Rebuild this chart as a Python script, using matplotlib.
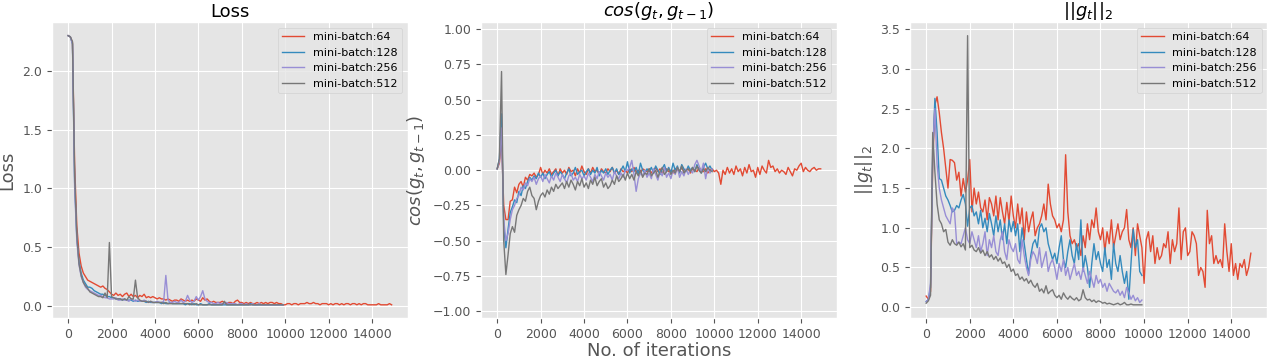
import numpy as np
import matplotlib
matplotlib.use("Agg")
import matplotlib.pyplot as plt

plt.style.use('ggplot')

# iteration grid: mini-batch 64 ran 150 logging steps, the others 100
iters_long = np.arange(0, 15000, 100)
iters_short = np.arange(0, 10000, 100)

labels = ['mini-batch:64', 'mini-batch:128', 'mini-batch:256', 'mini-batch:512']

# ---- loss ----
loss_64 = [
    2.30, 2.29, 2.24, 1.20, 0.68, 0.45, 0.34, 0.28, 0.25, 0.22,
    0.21, 0.20, 0.19, 0.18, 0.17, 0.16, 0.17, 0.15, 0.14, 0.12,
    0.10, 0.09, 0.11, 0.09, 0.10, 0.08, 0.10, 0.11, 0.08, 0.10,
    0.08, 0.09, 0.07, 0.09, 0.08, 0.10, 0.07, 0.08, 0.07, 0.08,
    0.07, 0.06, 0.07, 0.06, 0.06, 0.05, 0.06, 0.05, 0.04, 0.05,
    0.05, 0.04, 0.06, 0.05, 0.04, 0.05, 0.04, 0.05, 0.04, 0.06,
    0.05, 0.04, 0.07, 0.05, 0.06, 0.04, 0.03, 0.04, 0.03, 0.03,
    0.03, 0.04, 0.03, 0.02, 0.03, 0.03, 0.02, 0.04, 0.05, 0.03,
    0.03, 0.02, 0.03, 0.02, 0.03, 0.02, 0.02, 0.03, 0.02, 0.03,
    0.02, 0.03, 0.02, 0.03, 0.03, 0.02, 0.03, 0.02, 0.02, 0.01,
    0.01, 0.02, 0.02, 0.01, 0.02, 0.02, 0.01, 0.02, 0.02, 0.02,
    0.03, 0.02, 0.02, 0.03, 0.02, 0.02, 0.01, 0.02, 0.02, 0.02,
    0.01, 0.02, 0.01, 0.02, 0.02, 0.01, 0.02, 0.01, 0.02, 0.02,
    0.01, 0.02, 0.02, 0.01, 0.02, 0.01, 0.02, 0.02, 0.01, 0.01,
    0.01, 0.01, 0.01, 0.02, 0.01, 0.01, 0.01, 0.01, 0.02, 0.01,
]
loss_128 = [
    2.30, 2.29, 2.23, 1.05, 0.58, 0.38, 0.28, 0.22, 0.19, 0.16,
    0.16, 0.15, 0.13, 0.12, 0.11, 0.10, 0.10, 0.09, 0.08, 0.08,
    0.07, 0.07, 0.06, 0.06, 0.06, 0.05, 0.06, 0.05, 0.05, 0.05,
    0.04, 0.05, 0.04, 0.04, 0.04, 0.04, 0.03, 0.04, 0.03, 0.03,
    0.03, 0.03, 0.03, 0.02, 0.03, 0.02, 0.02, 0.03, 0.02, 0.02,
    0.02, 0.02, 0.02, 0.02, 0.01, 0.02, 0.02, 0.01, 0.02, 0.01,
    0.01, 0.02, 0.01, 0.01, 0.01, 0.02, 0.01, 0.01, 0.01, 0.01,
    0.01, 0.01, 0.01, 0.01, 0.01, 0.01, 0.01, 0.01, 0.01, 0.01,
    0.01, 0.01, 0.01, 0.01, 0.02, 0.01, 0.01, 0.01, 0.01, 0.01,
    0.01, 0.01, 0.01, 0.01, 0.01, 0.01, 0.01, 0.01, 0.01, 0.01,
]
loss_256 = [
    2.30, 2.29, 2.23, 1.00, 0.55, 0.35, 0.25, 0.20, 0.16, 0.14,
    0.13, 0.12, 0.11, 0.10, 0.09, 0.09, 0.08, 0.07, 0.07, 0.06,
    0.06, 0.06, 0.07, 0.05, 0.05, 0.06, 0.05, 0.05, 0.04, 0.06,
    0.05, 0.04, 0.05, 0.04, 0.04, 0.05, 0.04, 0.03, 0.04, 0.03,
    0.03, 0.04, 0.03, 0.03, 0.04, 0.26, 0.05, 0.03, 0.03, 0.04,
    0.03, 0.03, 0.05, 0.03, 0.04, 0.09, 0.05, 0.03, 0.04, 0.08,
    0.05, 0.08, 0.13, 0.06, 0.04, 0.03, 0.03, 0.02, 0.02, 0.03,
    0.02, 0.02, 0.02, 0.03, 0.02, 0.02, 0.02, 0.02, 0.01, 0.02,
    0.02, 0.01, 0.02, 0.01, 0.01, 0.02, 0.01, 0.01, 0.02, 0.01,
    0.01, 0.01, 0.01, 0.01, 0.01, 0.01, 0.01, 0.01, 0.01, 0.01,
]
loss_512 = [
    2.30, 2.29, 2.25, 1.10, 0.60, 0.36, 0.26, 0.20, 0.17, 0.15,
    0.12, 0.11, 0.10, 0.09, 0.08, 0.08, 0.07, 0.11, 0.07, 0.54,
    0.08, 0.07, 0.06, 0.06, 0.06, 0.05, 0.06, 0.05, 0.08, 0.06,
    0.06, 0.22, 0.07, 0.05, 0.04, 0.04, 0.04, 0.03, 0.04, 0.03,
    0.03, 0.03, 0.03, 0.03, 0.02, 0.03, 0.02, 0.02, 0.02, 0.02,
    0.02, 0.02, 0.02, 0.02, 0.02, 0.02, 0.01, 0.02, 0.01, 0.02,
    0.01, 0.01, 0.01, 0.01, 0.01, 0.01, 0.01, 0.01, 0.01, 0.01,
    0.01, 0.01, 0.04, 0.01, 0.01, 0.01, 0.01, 0.01, 0.01, 0.01,
    0.01, 0.01, 0.01, 0.01, 0.01, 0.01, 0.01, 0.01, 0.01, 0.01,
    0.01, 0.01, 0.01, 0.01, 0.01, 0.01, 0.01, 0.01, 0.01, 0.01,
]

# ---- cosine between consecutive gradients ----
cos_64 = [
    0.01, 0.05, 0.22, -0.25, -0.35, -0.35, -0.22, -0.21, -0.12, -0.16,
    -0.10, -0.08, -0.12, -0.05, -0.07, -0.03, -0.04, -0.02, -0.05, -0.03,
    0.02, -0.03, 0.00, -0.02, 0.01, -0.03, -0.01, 0.01, -0.04, 0.01,
    -0.02, 0.00, -0.03, 0.02, -0.01, 0.00, -0.04, 0.01, -0.02, 0.03,
    -0.01, -0.03, 0.01, -0.02, 0.02, -0.01, 0.00, -0.03, 0.01, -0.01,
    -0.02, 0.01, -0.01, 0.02, -0.02, 0.00, -0.03, 0.01, -0.01, 0.00,
    -0.02, 0.01, -0.01, 0.02, -0.01, 0.00, -0.02, 0.01, 0.00, -0.01,
    0.01, -0.02, 0.00, 0.02, -0.01, 0.01, -0.02, 0.00, 0.01, -0.01,
    0.00, -0.02, 0.01, 0.00, -0.01, 0.02, -0.01, 0.00, 0.01, -0.02,
    0.01, 0.00, -0.01, 0.02, 0.00, -0.01, 0.01, -0.02, 0.00, 0.01,
    -0.01, 0.00, -0.02, -0.10, 0.00, -0.03, 0.02, -0.02, 0.01, -0.03,
    0.03, -0.01, 0.01, -0.04, 0.02, -0.02, 0.04, -0.01, 0.00, -0.05,
    0.02, -0.03, 0.03, 0.00, -0.02, 0.07, 0.02, 0.03, -0.01, 0.01,
    -0.02, 0.00, -0.01, -0.03, 0.02, -0.01, -0.04, 0.01, 0.00, 0.03,
    0.05, -0.01, 0.02, 0.00, -0.01, 0.01, 0.02, 0.00, 0.01, 0.01,
]
cos_128 = [
    0.01, 0.08, 0.40, -0.40, -0.55, -0.42, -0.30, -0.26, -0.21, -0.23,
    -0.15, -0.18, -0.11, -0.13, -0.08, -0.05, -0.07, -0.04, -0.06, -0.02,
    -0.05, -0.02, -0.06, -0.03, -0.01, -0.05, -0.02, 0.00, -0.04, -0.01,
    -0.03, -0.06, -0.02, 0.01, -0.04, -0.02, 0.02, -0.03, -0.01, 0.00,
    -0.04, -0.01, 0.01, -0.03, 0.00, -0.02, 0.02, -0.04, 0.00, -0.02,
    0.01, -0.03, 0.00, 0.02, -0.02, 0.01, -0.03, 0.00, 0.03, -0.01,
    0.06, -0.02, 0.01, -0.01, 0.02, -0.03, 0.05, 0.00, -0.02, 0.01,
    -0.01, 0.02, -0.02, 0.03, 0.00, -0.03, 0.01, 0.04, -0.01, 0.02,
    -0.02, 0.05, 0.00, 0.03, -0.02, 0.04, 0.01, -0.01, 0.03, 0.00,
    0.02, -0.01, 0.04, 0.00, -0.02, 0.02, 0.05, 0.01, 0.03, 0.00,
]
cos_256 = [
    0.01, 0.06, 0.30, -0.35, -0.50, -0.45, -0.35, -0.28, -0.25, -0.20,
    -0.18, -0.12, -0.14, -0.09, -0.11, -0.06, -0.08, -0.05, -0.10, -0.06,
    -0.04, -0.08, -0.03, -0.06, -0.09, -0.04, -0.07, -0.02, -0.05, -0.08,
    -0.03, -0.06, -0.09, -0.04, -0.02, -0.07, -0.05, -0.08, -0.03, -0.06,
    -0.04, -0.07, -0.02, -0.05, -0.08, -0.03, -0.06, -0.01, -0.04, -0.07,
    -0.02, -0.05, -0.03, -0.07, -0.01, -0.04, -0.06, -0.02, -0.05, 0.00,
    0.00, 0.02, 0.07, -0.03, -0.15, -0.06, -0.02, -0.04, 0.00, -0.05,
    -0.02, -0.06, 0.01, -0.03, -0.07, -0.01, -0.04, 0.02, -0.05, -0.02,
    -0.06, 0.00, -0.03, 0.02, -0.05, -0.01, -0.04, 0.01, -0.03, 0.00,
    -0.02, 0.04, 0.07, 0.03, -0.01, 0.05, -0.06, 0.02, -0.02, 0.01,
]
cos_512 = [
    0.01, 0.08, 0.70, -0.50, -0.74, -0.60, -0.45, -0.40, -0.44, -0.32,
    -0.28, -0.25, -0.20, -0.22, -0.15, -0.12, -0.18, -0.20, -0.28, -0.22,
    -0.18, -0.16, -0.19, -0.14, -0.17, -0.12, -0.15, -0.10, -0.13, -0.11,
    -0.09, -0.13, -0.08, -0.12, -0.07, -0.10, -0.14, -0.08, -0.11, -0.06,
    -0.12, -0.09, -0.13, -0.07, -0.10, -0.05, -0.11, -0.08, -0.06, -0.12,
    -0.09, -0.13, -0.11, -0.07, -0.10, -0.04, -0.08, -0.06, -0.03, -0.07,
    -0.02, -0.06, -0.03, -0.07, -0.01, -0.04, 0.00, -0.05, -0.02, -0.03,
    0.01, -0.04, -0.02, 0.00, -0.05, -0.01, 0.02, -0.03, -0.01, 0.01,
    -0.03, 0.00, -0.02, 0.02, -0.01, 0.03, -0.02, 0.00, 0.01, -0.01,
    0.02, -0.01, 0.03, 0.00, -0.02, 0.01, -0.01, 0.02, 0.00, -0.01,
]

# ---- gradient norm ----
norm_64 = [
    0.14, 0.10, 0.20, 1.80, 2.55, 2.65, 2.45, 2.20, 2.00, 1.75,
    1.50, 1.86, 1.85, 1.82, 1.60, 1.70, 1.40, 1.62, 1.45, 1.60,
    1.86, 1.20, 1.50, 1.30, 1.45, 1.25, 1.20, 1.35, 1.10, 1.38,
    1.30, 1.15, 1.40, 1.10, 1.38, 1.20, 1.05, 1.32, 1.08, 1.40,
    1.15, 1.00, 1.30, 1.05, 1.25, 0.85, 1.20, 0.95, 1.10, 1.20,
    0.90, 1.00, 1.05, 1.15, 1.30, 1.10, 1.55, 1.30, 1.15, 1.10,
    1.00, 1.05, 0.95, 1.10, 1.92, 1.20, 0.90, 0.80, 0.85, 0.75,
    0.80, 0.65, 0.90, 0.75, 1.05, 0.85, 1.10, 1.00, 1.25, 0.95,
    0.85, 1.00, 0.70, 0.95, 0.80, 1.10, 0.75, 0.90, 1.05, 0.85,
    0.95, 1.00, 1.23, 0.85, 0.75, 1.00, 0.65, 1.05, 0.90, 0.75,
    0.30, 0.85, 0.95, 0.70, 0.90, 0.55, 0.75, 0.60, 0.65, 0.80,
    0.75, 0.95, 0.55, 0.85, 0.70, 0.80, 1.25, 0.60, 0.95, 1.00,
    0.65, 0.70, 0.95, 0.90, 0.80, 0.40, 0.50, 0.45, 0.25, 1.22,
    0.80, 0.90, 0.55, 0.65, 0.55, 0.60, 0.50, 1.05, 0.70, 0.45,
    0.80, 0.40, 0.55, 0.35, 0.55, 0.50, 0.60, 0.40, 0.50, 0.68,
]
norm_128 = [
    0.07, 0.10, 0.25, 1.90, 2.63, 2.20, 1.62, 1.60, 1.50, 1.40,
    1.35, 1.28, 1.20, 1.22, 1.28, 1.25, 1.35, 1.42, 1.30, 1.02,
    1.25, 1.28, 1.15, 1.20, 1.05, 1.22, 1.00, 1.12, 0.95, 1.18,
    1.05, 0.90, 1.15, 0.95, 1.10, 0.85, 1.05, 0.80, 1.10, 0.95,
    1.08, 0.90, 1.05, 0.70, 1.00, 0.80, 0.60, 0.42, 0.65, 0.80,
    0.85, 0.75, 1.00, 1.05, 0.95, 1.00, 0.80, 0.70, 0.60, 0.68,
    0.55, 0.75, 0.90, 0.60, 0.50, 0.70, 0.85, 0.65, 0.55, 0.80,
    0.60, 1.10, 0.45, 0.65, 0.50, 0.25, 0.55, 0.80, 0.60, 0.70,
    0.55, 0.45, 0.75, 0.50, 0.60, 0.35, 0.80, 0.55, 0.45, 0.65,
    0.45, 0.30, 0.45, 0.10, 0.55, 0.98, 0.75, 0.85, 0.45, 0.40,
]
norm_256 = [
    0.07, 0.10, 0.30, 2.00, 2.50, 1.80, 1.50, 1.35, 1.25, 1.15,
    1.10, 1.05, 1.25, 1.20, 0.80, 0.82, 0.80, 0.90, 1.00, 0.85,
    0.80, 0.95, 0.85, 0.75, 0.90, 0.70, 0.80, 0.95, 0.65, 0.85,
    0.75, 0.90, 0.70, 0.65, 0.85, 0.95, 0.70, 0.60, 0.85, 0.75,
    0.70, 0.80, 0.60, 0.55, 0.85, 0.65, 0.50, 0.40, 0.60, 0.70,
    0.65, 0.55, 0.75, 0.50, 0.60, 0.70, 0.45, 0.55, 0.60, 0.50,
    0.35, 0.55, 0.45, 0.60, 0.40, 0.50, 0.35, 0.45, 0.55, 0.40,
    0.45, 0.35, 0.50, 0.40, 0.30, 0.45, 0.35, 0.25, 0.40, 0.30,
    0.35, 0.25, 0.30, 0.20, 0.30, 0.25, 0.20, 0.18, 0.22, 0.15,
    0.20, 0.12, 0.25, 0.18, 0.10, 0.15, 0.08, 0.12, 0.06, 0.09,
]
norm_512 = [
    0.05, 0.08, 0.15, 2.20, 1.70, 1.30, 1.10, 1.05, 0.95, 0.98,
    0.82, 0.78, 0.85, 0.80, 0.78, 0.82, 0.76, 0.80, 0.72, 3.42,
    0.75, 0.78, 0.72, 0.70, 0.75, 0.68, 0.72, 0.65, 0.70, 0.63,
    0.66, 0.60, 0.64, 0.58, 0.62, 0.55, 0.57, 0.50, 0.54, 0.45,
    0.48, 0.40, 0.42, 0.35, 0.38, 0.33, 0.36, 0.30, 0.34, 0.28,
    0.25, 0.30, 0.20, 0.23, 0.18, 0.27, 0.17, 0.20, 0.22, 0.15,
    0.12, 0.15, 0.10, 0.18, 0.13, 0.10, 0.14, 0.11, 0.09, 0.12,
    0.08, 0.10, 0.22, 0.12, 0.09, 0.10, 0.07, 0.09, 0.06, 0.08,
    0.07, 0.05, 0.06, 0.04, 0.05, 0.04, 0.03, 0.04, 0.05, 0.03,
    0.04, 0.06, 0.03, 0.03, 0.04, 0.03, 0.03, 0.03, 0.03, 0.03,
]


def draw_panel(ax, series, title, ylabel):
    xs = [iters_long, iters_short, iters_short, iters_short]
    for x, y, lab in zip(xs, series, labels):
        ax.plot(x, y, linewidth=1.0, label=lab)
    ax.set_title(title, fontsize=13, pad=4)
    ax.set_ylabel(ylabel, fontsize=13)
    ax.tick_params(labelsize=9)
    ax.legend(loc='upper right', fontsize=8)


fig = plt.figure(figsize=(12.8, 3.58), dpi=100)
ax1 = fig.add_axes([0.0406, 0.111, 0.278, 0.827])
ax2 = fig.add_axes([0.3758, 0.111, 0.278, 0.827])
ax3 = fig.add_axes([0.7109, 0.111, 0.279, 0.827])

draw_panel(ax1, [loss_64, loss_128, loss_256, loss_512], 'Loss', 'Loss')
draw_panel(ax2, [cos_64, cos_128, cos_256, cos_512],
           r'$cos(g_t, g_{t-1})$', r'$cos(g_t, g_{t-1})$')
ax2.set_ylim(-1.05, 1.05)
ax2.set_xlabel('No. of iterations', fontsize=13, labelpad=1)
draw_panel(ax3, [norm_64, norm_128, norm_256, norm_512],
           r'$||g_t||_2$', r'$||g_t||_2$')

fig.savefig('out.png', dpi=100)
